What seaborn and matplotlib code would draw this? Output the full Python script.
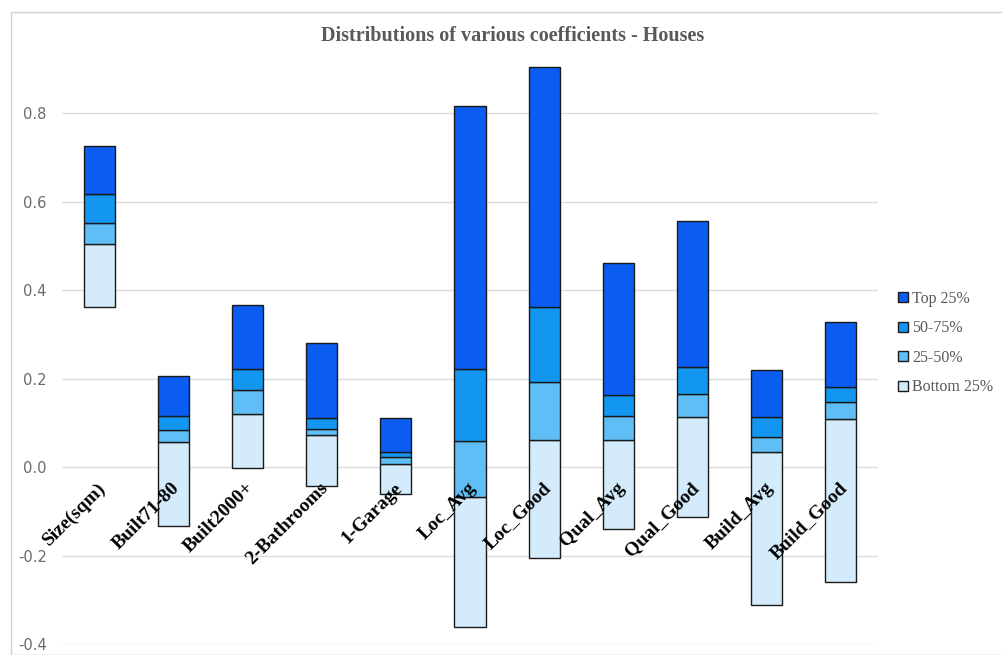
import numpy as np
import pandas as pd
import seaborn as sns
import matplotlib.pyplot as plt
from matplotlib.patches import Rectangle, Patch

sns.set_style("white")

variables = ["Size(sqm)", "Built71-80", "Built2000+", "2-Bathrooms", "1-Garage",
             "Loc_Avg", "Loc_Good", "Qual_Avg", "Qual_Good", "Build_Avg", "Build_Good"]

# quartile boundaries of the coefficient distributions
q_min = [0.361, -0.133, -0.002, -0.043, -0.060, -0.361, -0.205, -0.139, -0.112, -0.311, -0.259]
q_25 = [0.505, 0.056, 0.119, 0.073, 0.007, -0.068, 0.062, 0.062, 0.113, 0.035, 0.108]
q_50 = [0.551, 0.084, 0.173, 0.087, 0.022, 0.059, 0.193, 0.116, 0.165, 0.069, 0.148]
q_75 = [0.616, 0.116, 0.222, 0.110, 0.035, 0.222, 0.361, 0.162, 0.227, 0.113, 0.181]
q_max = [0.725, 0.206, 0.366, 0.281, 0.111, 0.815, 0.904, 0.461, 0.556, 0.219, 0.328]

segments = ["Bottom 25%", "25-50%", "50-75%", "Top 25%"]
colors = ["#D3EBFB", "#5EBEF5", "#1296F0", "#0B5CF0"]

bounds = [q_min, q_25, q_50, q_75, q_max]

fig = plt.figure(figsize=(10.02, 6.55), dpi=100)
ax = fig.add_axes([62 / 1002, 1 - 644 / 655, 816 / 1002, (644 - 60) / 655])

for k, seg in enumerate(segments):
    lo = np.array(bounds[k])
    hi = np.array(bounds[k + 1])
    df = pd.DataFrame({"var": variables, "h": hi - lo})
    sns.barplot(data=df, x="var", y="h", order=variables, bottom=lo,
                color=colors[k], width=0.42, edgecolor="#1a1a1a", linewidth=1.0,
                errorbar=None, saturation=1, ax=ax, zorder=3)

ax.set_xlim(-0.5, len(variables) - 0.5)
ax.set_ylim(-0.4, 0.92)
ax.set_yticks([-0.4, -0.2, 0.0, 0.2, 0.4, 0.6, 0.8])
ax.set_yticklabels(["-0.4", "-0.2", "0.0", "0.2", "0.4", "0.6", "0.8"],
                   color="#6b6b6b", fontsize=10.5, family="DejaVu Sans")
ax.tick_params(axis="y", length=0, pad=11)
ax.set_xticks([])
ax.set_xlabel("")
ax.set_ylabel("")
ax.grid(axis="y", color="#dcdcdc", linewidth=1.0, zorder=0)
ax.set_axisbelow(True)
for s in ax.spines.values():
    s.set_visible(False)

# category labels hang diagonally from the zero line
for i, name in enumerate(variables):
    ax.text(i - 0.03, -0.028, name, rotation=45, rotation_mode="anchor",
            ha="right", va="top", fontsize=14, fontweight="bold",
            family="Liberation Serif", color="black", zorder=4)

fig.text(513 / 1002, 1 - 36 / 655, "Distributions of various coefficients - Houses",
         ha="center", va="center", fontsize=14.5, fontweight="bold",
         family="Liberation Serif", color="#595959")

handles = [Patch(facecolor=colors[k], edgecolor="#1a1a1a", linewidth=1.0, label=segments[k])
           for k in [3, 2, 1, 0]]
leg = fig.legend(handles=handles, loc="center left", bbox_to_anchor=(887 / 1002, 1 - 343 / 655),
                 frameon=False, handlelength=0.6, handleheight=0.6, handletextpad=0.25,
                 labelspacing=0.85, borderpad=0.2,
                 prop={"family": "Liberation Serif", "size": 11.5})
for t in leg.get_texts():
    t.set_color("#595959")

fig.patches.append(Rectangle((11 / 1002, 0), 1.1, 1 - 12 / 655, transform=fig.transFigure,
                             fill=False, edgecolor="#d0d0d0", linewidth=1.0))

fig.savefig("out.png", dpi=100, facecolor="white")
